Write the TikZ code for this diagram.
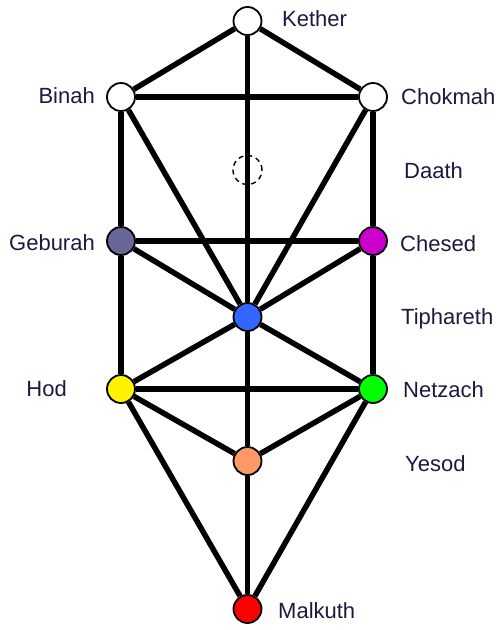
\documentclass[tikz,border=0pt]{standalone}
\usepackage{fontspec}
\setmainfont{Liberation Sans}
\definecolor{labelnavy}{RGB}{26, 26, 64}
\definecolor{geburahgrey}{RGB}{102, 102, 153}
\definecolor{chesedpurple}{RGB}{204, 0, 204}
\definecolor{tipharethblue}{RGB}{51, 102, 255}
\definecolor{yesodorange}{RGB}{255, 153, 102}

\begin{document}
\begin{tikzpicture}[
  x=1pt, y=-1pt,
  sephira/.style={draw, circle, line width=1.8pt, minimum size=28pt, inner sep=0pt, fill=white},
  daathring/.style={draw, dashed, dash pattern=on 5pt off 4pt, circle, line width=1.4pt, minimum size=29pt, inner sep=0pt},
  pathline/.style={line width=5.5pt},
  sephiralabel/.style={font=\fontsize{22}{22}\selectfont, text=labelnavy, inner sep=0pt}
]
  \useasboundingbox (0,0) rectangle (501,630);

  % the sephiroth
  \node[sephira] (kether) at (247.5, 21) {};
  \node[sephira] (binah) at (121, 97) {};
  \node[sephira] (chokmah) at (373, 97) {};
  \node[daathring] (daath) at (247.5, 170) {};
  \node[sephira, fill=geburahgrey] (geburah) at (121, 241) {};
  \node[sephira, fill=chesedpurple] (chesed) at (373, 241) {};
  \node[sephira, fill=tipharethblue] (tiphareth) at (247.5, 317) {};
  \node[sephira, fill=yellow] (hod) at (121, 389) {};
  \node[sephira, fill=green] (netzach) at (373, 389) {};
  \node[sephira, fill=yesodorange] (yesod) at (247.5, 461) {};
  \node[sephira, fill=red] (malkuth) at (247.5, 609) {};

  % the paths
  \draw[pathline] (kether) -- (binah);
  \draw[pathline] (kether) -- (chokmah);
  \draw[line width=4.5pt] (kether.south) -- (daath.center) -- (tiphareth.north);
  \draw[pathline] (binah) -- (chokmah);
  \draw[pathline] (binah) -- (geburah);
  \draw[pathline] (binah) -- (tiphareth);
  \draw[pathline] (chokmah) -- (chesed);
  \draw[pathline] (chokmah) -- (tiphareth);
  \draw[pathline] (geburah) -- (chesed);
  \draw[pathline] (geburah) -- (tiphareth);
  \draw[pathline] (chesed) -- (tiphareth);
  \draw[pathline] (geburah) -- (hod);
  \draw[pathline] (chesed) -- (netzach);
  \draw[pathline] (hod) -- (tiphareth);
  \draw[pathline] (netzach) -- (tiphareth);
  \draw[pathline] (hod) -- (netzach);
  \draw[pathline] (tiphareth) -- (yesod);
  \draw[pathline] (hod) -- (yesod);
  \draw[pathline] (netzach) -- (yesod);
  \draw[pathline] (yesod) -- (malkuth);
  \draw[pathline] (hod) -- (malkuth);
  \draw[pathline] (netzach) -- (malkuth);

  % names
  \node[sephiralabel, anchor=west] (ketherlabel) at (282, 19) {Kether};
  \node[sephiralabel, anchor=east] (binahlabel) at (95, 96) {Binah};
  \node[sephiralabel, anchor=west] (chokmahlabel) at (401, 97) {Chokmah};
  \node[sephiralabel, anchor=west] (daathlabel) at (404, 171) {Daath};
  \node[sephiralabel, anchor=east] (geburahlabel) at (95, 243) {Geburah};
  \node[sephiralabel, anchor=west] (chesedlabel) at (400, 244) {Chesed};
  \node[sephiralabel, anchor=west] (tipharethlabel) at (401, 319) {Tiphareth};
  \node[sephiralabel, anchor=east] (hodlabel) at (67, 389) {Hod};
  \node[sephiralabel, anchor=west] (netzachlabel) at (403, 390) {Netzach};
  \node[sephiralabel, anchor=west] (yesodlabel) at (405, 464) {Yesod};
  \node[sephiralabel, anchor=west] (malkuthlabel) at (278, 611) {Malkuth};
\end{tikzpicture}
\end{document}
